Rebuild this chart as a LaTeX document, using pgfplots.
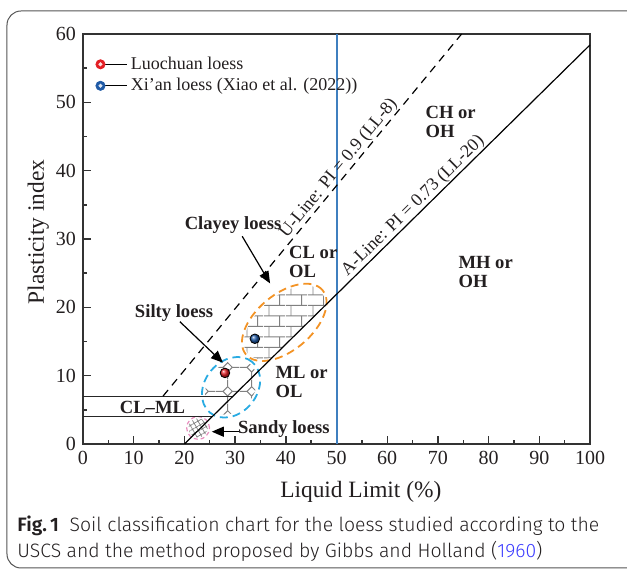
\documentclass[border=0pt]{standalone}
\usepackage{fontspec}
\setmainfont{Liberation Serif}
\newfontfamily\capfont{Fira Sans}[UprightFont={* Light}, BoldFont={* SemiBold}]
\usepackage{pgfplots}
\pgfplotsset{compat=1.18}
\usetikzlibrary{patterns,patterns.meta,arrows.meta}

\definecolor{ballred}{HTML}{E31E24}
\definecolor{ballblue}{HTML}{1F5AA6}
\definecolor{vline}{HTML}{3F7FBF}
\definecolor{orng}{HTML}{F39325}
\definecolor{cyn}{HTML}{29ABE2}
\definecolor{pnk}{HTML}{E88EBE}
\definecolor{brickgray}{HTML}{808080}
\definecolor{txt}{HTML}{231F20}
\definecolor{axgray}{HTML}{333333}
\definecolor{framegray}{HTML}{555555}
\definecolor{linkblue}{HTML}{3B3BFF}

\tikzdeclarepattern{
  name=mybricks,
  type=uncolored,
  bounding box={(0pt,0pt) and (11pt,10.4pt)},
  tile size={(11pt,10.4pt)},
  code={
    \draw[line width=0.5pt] (0pt,2.6pt) -- (11pt,2.6pt);
    \draw[line width=0.5pt] (0pt,7.8pt) -- (11pt,7.8pt);
    \draw[line width=0.5pt] (2.6pt,2.6pt) -- (2.6pt,7.8pt);
    \draw[line width=0.5pt] (8.1pt,7.8pt) -- (8.1pt,10.4pt);
    \draw[line width=0.5pt] (8.1pt,0pt) -- (8.1pt,2.6pt);
  }
}
\tikzdeclarepattern{
  name=mydiamonds,
  type=uncolored,
  bounding box={(0pt,0pt) and (12pt,12pt)},
  tile size={(12pt,12pt)},
  code={
    \draw[line width=0.5pt] (6pt,3.6pt) -- (8.4pt,6pt) -- (6pt,8.4pt) -- (3.6pt,6pt) -- cycle;
    \draw[line width=0.5pt] (6pt,0pt) -- (6pt,3.6pt) (6pt,8.4pt) -- (6pt,12pt)
      (0pt,6pt) -- (3.6pt,6pt) (8.4pt,6pt) -- (12pt,6pt);
  }
}

\begin{document}
\begin{tikzpicture}
\useasboundingbox (-41.5pt,-63.5pt) rectangle (272pt,222pt);
\draw[framegray, line width=0.5pt, rounded corners=7pt] (-38pt,-62pt) rectangle (280pt,216.5pt);
\begin{axis}[
  at={(0pt,0pt)}, anchor=south west,
  scale only axis, width=253.5pt, height=205pt,
  xmin=0, xmax=100, ymin=0, ymax=60,
  xtick={0,10,...,100}, ytick={0,10,...,60},
  minor x tick num=1, minor y tick num=1,
  tick pos=left, tick align=inside,
  major tick length=4pt, minor tick length=2pt,
  axis line style={line width=0.8pt, color=axgray},
  every tick/.style={line width=0.7pt, color=axgray},
  /pgf/number format/assume math mode=true,
  tick label style={font=\fontsize{10}{12}\selectfont, text=txt},
  xlabel={Liquid Limit (\%)}, ylabel={Plasticity index},
  label style={font=\fontsize{11.7}{14}\selectfont, text=txt},
  xlabel style={at={(axis description cs:0.548,0)}, anchor=base, yshift=-27pt},
  ylabel style={at={(axis description cs:-0.077,0.517)}, anchor=base},
  legend style={at={(axis description cs:0.012,0.963)}, anchor=north west,
    draw=none, fill=none, font=\fontsize{9}{10}\selectfont, text=txt,
    row sep=0pt, nodes={inner sep=1.5pt}},
  legend cell align=left,
]
% clayey loess bricks
\begin{scope}
  \clip (axis cs:20,0) -- (axis cs:100,58.4) -- (axis cs:100,60) -- (axis cs:0,60) -- (axis cs:0,0) -- cycle;
  \begin{scope}[shift={(axis cs:39.7,17.8)}, rotate=40]
    \clip (0pt,0pt) ellipse [x radius=24pt, y radius=13pt];
    \fill[pattern=mybricks, pattern color=brickgray] (-30pt,-30pt) rectangle (30pt,30pt);
  \end{scope}
\end{scope}
% silty loess diamonds
\begin{scope}[shift={(axis cs:29.2,8.3)}, rotate=50]
  \clip (0pt,0pt) ellipse [x radius=15pt, y radius=11.5pt];
  \fill[pattern=mydiamonds, pattern color=brickgray] (-20pt,-20pt) rectangle (20pt,20pt);
\end{scope}
% sandy loess hatch
\begin{scope}[shift={(axis cs:22.7,2.35)}]
  \clip (0pt,0pt) circle [radius=4.8pt];
  \fill[pattern={Hatch[angle=30,distance=2.2pt,line width=0.35pt]}, pattern color=brickgray] (-6pt,-6pt) rectangle (6pt,6pt);
\end{scope}
% ellipses
\begin{scope}[shift={(axis cs:39.7,17.8)}, rotate=40]
  \draw[orng, line width=0.9pt, dash pattern=on 4pt off 2.5pt] (0pt,0pt) ellipse [x radius=25pt, y radius=14pt];
\end{scope}
\begin{scope}[shift={(axis cs:29.2,8.3)}, rotate=50]
  \draw[cyn, line width=0.9pt, dash pattern=on 4pt off 2.5pt] (0pt,0pt) ellipse [x radius=16.5pt, y radius=13pt];
\end{scope}
\begin{scope}[shift={(axis cs:22.7,2.35)}]
  \draw[pnk, line width=0.6pt, dash pattern=on 2pt off 1.5pt] (0pt,0pt) circle [radius=5.7pt];
\end{scope}
% lines
\addplot[vline, line width=1pt, forget plot] coordinates {(50,0) (50,60)};
\addplot[black!85, line width=0.5pt, forget plot] coordinates {(0,4) (25.48,4)};
\addplot[black!85, line width=0.5pt, forget plot] coordinates {(0,7) (29.59,7)};
\addplot[black, line width=0.6pt, forget plot] coordinates {(20,0) (100,58.4)}
  node[pos=0.58, sloped, above, inner sep=0.3pt, font=\fontsize{9}{11}\selectfont, text=txt] {A-Line: PI = 0.73 (LL-20)};
\addplot[black, line width=0.6pt, dash pattern=on 4pt off 3pt, forget plot] coordinates {(15.78,7) (74.67,60)}
  node[pos=0.613, sloped, above, inner sep=0.3pt, font=\fontsize{9}{11}\selectfont, text=txt] {U-Line: PI = 0.9 (LL-8)};
% arrows
\addplot[black, line width=0.6pt, -{Triangle[length=6pt,width=5pt]}, forget plot] coordinates {(31.4,30.4) (36.9,23.5)};
\addplot[black, line width=0.6pt, -{Triangle[length=6pt,width=5pt]}, forget plot] coordinates {(19.1,17.9) (27.6,11.9)};
\addplot[black, line width=0.6pt, -{Triangle[length=6pt,width=5pt]}, forget plot] coordinates {(31.0,1.8) (25.4,1.8)};
% data points
\addplot[only marks, mark=ball, mark size=2.4pt, mark options={ball color=ballred},
  legend image code/.code={\path (0pt,0pt) -- (13.5pt,0pt); \fill[ballred] (0pt,0pt) circle[radius=2.3pt]; \fill[white!85!ballred] (0pt,0pt) circle[radius=0.8pt];}]
  coordinates {(28.0,10.4)};
\addlegendentry{Luochuan loess}
\addplot[only marks, mark=ball, mark size=2.4pt, mark options={ball color=ballblue},
  legend image code/.code={\path (0pt,0pt) -- (13.5pt,0pt); \fill[ballblue] (0pt,0pt) circle[radius=2.3pt]; \fill[white!85!ballblue] (0pt,0pt) circle[radius=0.8pt];}]
  coordinates {(33.9,15.4)};
\addlegendentry{Xi'an loess (Xiao et al. (2022))}
% region labels
\begin{scope}[every node/.style={font=\bfseries\fontsize{9.3}{9.5}\selectfont, text=txt, inner sep=0pt, align=left}]
\node[anchor=west] at (axis cs:67.5,47.1) {CH or\\OH};
\node[anchor=west] at (axis cs:40.6,26.7) {CL or\\OL};
\node[anchor=west] at (axis cs:74.0,25.2) {MH or\\OH};
\node[anchor=west] at (axis cs:37.9,9.0) {ML or\\OL};
\node at (axis cs:13.7,5.4) {CL--ML};
\node at (axis cs:17.95,19.1) {Silty loess};
\node at (axis cs:29.6,32.0) {Clayey loess};
\node at (axis cs:39.6,2.2) {Sandy loess};
\end{scope}
\end{axis}
\node[anchor=base west, inner sep=0pt, text=txt, font=\capfont\fontsize{9.7}{12}\selectfont] at (-33pt,-44pt)
  {\textbf{Fig.\,1}\hspace{0.55em}Soil classification chart for the loess studied according to the};
\node[anchor=base west, inner sep=0pt, text=txt, font=\capfont\fontsize{9.7}{12}\selectfont] at (-33pt,-57pt)
  {USCS and the method proposed by Gibbs and Holland (\textcolor{linkblue}{1960})};
\end{tikzpicture}
\end{document}
